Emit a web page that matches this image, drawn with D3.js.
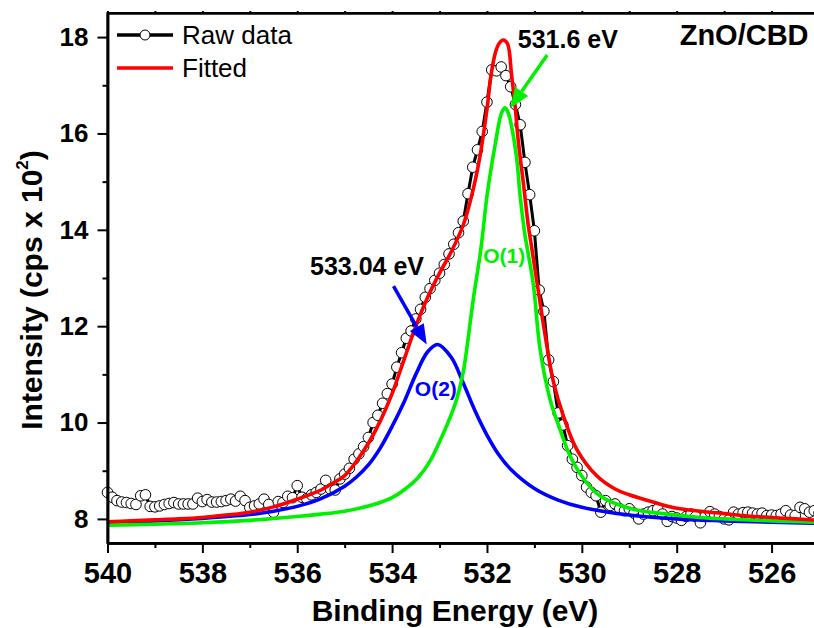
<!DOCTYPE html>
<html>
<head>
<meta charset="utf-8">
<script src="https://cdn.jsdelivr.net/npm/d3@7"></script>
<style>
body { margin: 0; background: #fff; }
svg { display: block; font-family: "Liberation Sans", Arial, sans-serif; }
</style>
</head>
<body>
<script>
// binding energy (eV), intensity (cps x 10^2)
var rawData = [
  [540.0,8.55],[539.9,8.45],[539.8,8.38],[539.7,8.35],[539.6,8.34],[539.5,8.32],[539.4,8.30],[539.3,8.48],[539.2,8.50],[539.1,8.26],
  [539.0,8.25],[538.9,8.27],[538.8,8.30],[538.7,8.32],[538.6,8.34],[538.5,8.31],[538.4,8.31],[538.3,8.31],[538.2,8.31],[538.1,8.43],
  [538.0,8.36],[537.9,8.40],[537.8,8.35],[537.7,8.35],[537.6,8.36],[537.5,8.38],[537.4,8.41],[537.3,8.37],[537.2,8.47],[537.1,8.38],
  [537.0,8.24],[536.9,8.27],[536.8,8.31],[536.7,8.41],[536.6,8.30],[536.5,8.14],[536.4,8.36],[536.3,8.34],[536.2,8.47],[536.1,8.44],
  [536.0,8.69],[535.9,8.45],[535.8,8.42],[535.7,8.50],[535.6,8.55],[535.5,8.62],[535.4,8.80],[535.3,8.62],[535.2,8.60],[535.1,8.83],
  [535.0,8.93],[534.9,9.05],[534.8,9.24],[534.7,9.35],[534.6,9.50],[534.5,9.69],[534.4,10.00],[534.3,10.15],[534.2,10.40],[534.1,10.60],
  [534.0,10.80],[533.9,11.15],[533.8,11.45],[533.7,11.75],[533.6,11.90],[533.5,12.15],[533.4,12.35],[533.3,12.60],[533.2,12.78],[533.1,12.95],
  [533.0,13.10],[532.9,13.28],[532.8,13.50],[532.7,13.70],[532.6,13.94],[532.5,14.18],[532.4,14.75],[532.3,15.30],[532.2,15.66],[532.1,16.04],
  [532.0,16.65],[531.9,17.32],[531.8,17.30],[531.7,17.38],[531.6,17.20],[531.5,16.97],[531.4,16.60],[531.3,16.18],[531.2,15.40],[531.1,14.73],
  [531.0,13.98],[530.9,12.75],[530.8,12.31],[530.7,11.30],[530.6,10.85],[530.5,10.20],[530.4,9.95],[530.3,9.52],[530.2,9.24],[530.1,9.07],
  [530.0,8.90],[529.9,8.66],[529.8,8.55],[529.7,8.48],[529.6,8.14],[529.5,8.38],[529.4,8.28],[529.3,8.31],[529.2,8.21],[529.1,8.17],
  [529.0,8.21],[528.9,8.12],[528.8,8.00],[528.7,8.10],[528.6,8.14],[528.5,8.17],[528.4,8.21],[528.3,8.10],[528.2,7.95],[528.1,8.05],
  [528.0,8.02],[527.9,7.97],[527.8,8.05],[527.7,8.10],[527.6,8.05],[527.5,7.92],[527.4,8.05],[527.3,8.15],[527.2,8.10],[527.1,8.05],
  [527.0,8.00],[526.9,7.98],[526.8,8.14],[526.7,8.10],[526.6,8.13],[526.5,8.14],[526.4,8.12],[526.3,8.10],[526.2,8.12],[526.1,8.07],
  [526.0,8.08],[525.9,8.07],[525.8,8.10],[525.7,8.17],[525.6,8.08],[525.5,8.07],[525.4,8.24],[525.3,8.21],[525.2,8.14],[525.1,8.17],
  [525.0,8.12]
];

var fittedData = [
  [540,7.94],[539.5,7.96],[539,7.98],[538.5,8.0],[538,8.03],[537.5,8.08],[537,8.14],[536.5,8.25],[536,8.41],[535.75,8.5],
  [535.5,8.6],[535.25,8.74],[535,8.9],[534.75,9.2],[534.5,9.57],[534.25,10.03],[534,10.6],[533.75,11.3],[533.5,12.0],[533.25,12.6],
  [533,13.1],[532.75,13.55],[532.5,14.1],[532.35,14.6],[532.2,15.25],[532.11,15.75],[532,16.5],[531.9,17.3],[531.8,17.75],[531.72,17.9],
  [531.66,17.94],[531.57,17.87],[531.48,17.2],[531.41,16.6],[531.34,15.85],[531.23,14.95],[531.13,14.1],[531.06,13.65],[530.92,12.75],[530.78,11.85],
  [530.6,10.85],[530.39,10.14],[530.11,9.45],[529.69,8.9],[529.3,8.62],[529,8.5],[528.5,8.35],[528,8.22],[527.5,8.16],[527,8.11],
  [526.5,8.06],[526,8.03],[525.5,8.0],[525,7.97]
];

var o1Data = [
  [540,7.87],[539,7.89],[538,7.92],[537,7.97],[536,8.05],[535.5,8.1],[535,8.16],[534.5,8.27],[534.25,8.34],[534,8.44],
  [533.75,8.6],[533.45,8.86],[533.2,9.2],[533,9.6],[532.8,10.05],[532.64,10.48],[532.5,11.05],[532.43,11.5],[532.29,12.55],[532.13,13.59],[532,14.7],
  [531.9,15.35],[531.83,15.75],[531.75,16.2],[531.69,16.43],[531.62,16.53],[531.55,16.42],[531.48,16.14],[531.37,15.45],[531.3,14.7],[531.2,13.9],
  [531.13,13.5],[531.02,12.85],[530.88,11.52],[530.67,10.48],[530.46,9.86],[530.25,9.31],[529.96,8.83],[529.62,8.48],[528.92,8.2],[528.21,8.1],
  [527.51,8.03],[527,8.0],[526,7.96],[525,7.93]
];

var o2Data = [
  [540,7.93],[539,7.96],[538,8.01],[537,8.09],[536.5,8.16],[536,8.26],[535.5,8.42],[535,8.68],[534.75,8.87],[534.5,9.12],
  [534.25,9.47],[534,9.92],[533.75,10.42],[533.5,11.0],[533.25,11.47],[533.04,11.62],[532.75,11.35],[532.5,10.82],[532.25,10.24],[532,9.74],
  [531.75,9.33],[531.5,9.03],[531,8.63],[530.5,8.39],[530,8.24],[529,8.08],[528,8.0],[527,7.96],[526,7.93],[525,7.91]
];

var xMajor = [540, 538, 536, 534, 532, 530, 528, 526];
var xMinor = [539, 537, 535, 533, 531, 529, 527, 525];
var yMajor = [8, 10, 12, 14, 16, 18];
var yMinor = [9, 11, 13, 15, 17];
var legendLabels = ["Raw data", "Fitted"];

// annotations: [E, intensity] positions
var peak1Label = {text: "531.6 eV", at: [531.35, 17.77]};
var peak2Label = {text: "533.04 eV", at: [535.73, 13.07]};
var o1Label = {text: "O(1)", at: [532.08, 13.32]};
var o2Label = {text: "O(2)", at: [533.52, 10.55]};
var sampleLabel = {text: "ZnO/CBD", at: [525.22, 17.83]};
var arrow1 = {from: [530.73, 17.63], to: [531.51, 16.53]};
var arrow2 = {from: [533.97, 12.83], to: [533.27, 11.62]};

var red = "#ff0000", green = "#00f000", blue = "#0000ff";

var svg = d3.select("body").append("svg")
    .attr("width", 814)
    .attr("height", 628);

var x = d3.scaleLinear().domain([540, 525]).range([107.5, 819]);
var y = d3.scaleLinear().domain([7.5, 18.5]).range([543, 13]);

var line = d3.line()
    .x(function(d) { return x(d[0]); })
    .y(function(d) { return y(d[1]); })
    .curve(d3.curveCatmullRom.alpha(0.5));

var rawLine = d3.line()
    .x(function(d) { return x(d[0]); })
    .y(function(d) { return y(d[1]); });

var plot = svg.append("g");

// raw data: black line with open circles
plot.append("path")
    .datum(rawData)
    .attr("fill", "none")
    .attr("stroke", "#000")
    .attr("stroke-width", 3)
    .attr("d", rawLine);

plot.selectAll("circle.raw")
    .data(rawData)
    .enter().append("circle")
    .attr("class", "raw")
    .attr("cx", function(d) { return x(d[0]); })
    .attr("cy", function(d) { return y(d[1]); })
    .attr("r", 5.3)
    .attr("fill", "#fff")
    .attr("stroke", "#000")
    .attr("stroke-width", 1);

[[o2Data, blue], [o1Data, green], [fittedData, red]].forEach(function(s) {
    plot.append("path")
        .datum(s[0])
        .attr("fill", "none")
        .attr("stroke", s[1])
        .attr("stroke-width", 3.6)
        .attr("stroke-linejoin", "round")
        .attr("d", line);
});

// frame
svg.append("rect")
    .attr("x", x(540)).attr("y", y(18.5))
    .attr("width", x(525) - x(540)).attr("height", y(7.5) - y(18.5))
    .attr("fill", "none").attr("stroke", "#000").attr("stroke-width", 2);

// axes
var xAxis = svg.append("g").attr("transform", "translate(0," + y(7.5) + ")")
    .call(d3.axisBottom(x).tickValues(xMajor).tickSize(10).tickSizeOuter(0).tickPadding(9).tickFormat(d3.format("d")));
svg.append("g").attr("transform", "translate(0," + y(7.5) + ")")
    .call(d3.axisBottom(x).tickValues(xMinor).tickSize(5).tickSizeOuter(0).tickFormat(""));
svg.append("g").attr("transform", "translate(0," + y(18.5) + ")")
    .call(d3.axisTop(x).tickValues(xMajor.concat(xMinor)).tickSize(2).tickSizeOuter(0).tickFormat(""));

var yAxis = svg.append("g").attr("transform", "translate(" + x(540) + ",0)")
    .call(d3.axisLeft(y).tickValues(yMajor).tickSize(10).tickSizeOuter(0).tickPadding(9).tickFormat(d3.format("d")));
svg.append("g").attr("transform", "translate(" + x(540) + ",0)")
    .call(d3.axisLeft(y).tickValues(yMinor).tickSize(5).tickSizeOuter(0).tickFormat(""));

svg.selectAll(".domain").attr("stroke-width", 2.5);
svg.selectAll(".tick line").attr("stroke-width", 2);

xAxis.selectAll("text")
    .attr("font-family", "Liberation Sans, Arial, sans-serif")
    .attr("font-size", 29).attr("font-weight", "bold").attr("fill", "#000");
yAxis.selectAll("text")
    .attr("font-family", "Liberation Sans, Arial, sans-serif")
    .attr("font-size", 26).attr("font-weight", "bold").attr("fill", "#000");

// axis titles
svg.append("text")
    .attr("x", 455)
    .attr("y", 621)
    .attr("text-anchor", "middle")
    .attr("font-size", 30).attr("font-weight", "bold")
    .text("Binding Energy (eV)");

var yt = svg.append("text")
    .attr("transform", "translate(42,290) rotate(-90)")
    .attr("text-anchor", "middle")
    .attr("font-size", 30).attr("font-weight", "bold");
yt.append("tspan").text("Intensity (cps x 10");
yt.append("tspan").attr("dy", -14).attr("font-size", 17).text("2");
yt.append("tspan").attr("dy", 14).text(")");

// legend
var lg = svg.append("g");
legendLabels.forEach(function(name, i) {
    var ly = 35 + i * 33;
    lg.append("line")
        .attr("x1", 117).attr("x2", 173).attr("y1", ly).attr("y2", ly)
        .attr("stroke", i === 0 ? "#000" : red).attr("stroke-width", 3.5);
    if (i === 0) {
        lg.append("circle").attr("cx", 145).attr("cy", ly).attr("r", 5)
            .attr("fill", "#fff").attr("stroke", "#000").attr("stroke-width", 1);
    }
    lg.append("text")
        .attr("x", 182).attr("y", ly + 8.5)
        .attr("font-size", 26)
        .text(name);
});

// annotations
function label(o, color, size, anchor) {
    svg.append("text")
        .attr("x", x(o.at[0])).attr("y", y(o.at[1]))
        .attr("text-anchor", anchor || "start")
        .attr("font-size", size).attr("font-weight", "bold")
        .attr("fill", color)
        .text(o.text);
}
label(peak1Label, "#000", 25);
label(peak2Label, "#000", 25);
label(o1Label, green, 21);
label(o2Label, blue, 21);
label(sampleLabel, "#000", 29, "end");

function arrow(a, color) {
    var x0 = x(a.from[0]), y0 = y(a.from[1]);
    var x1 = x(a.to[0]), y1 = y(a.to[1]);
    var ang = Math.atan2(y1 - y0, x1 - x0);
    var hl = 20, hw = 8;
    var bx = x1 - hl * Math.cos(ang), by = y1 - hl * Math.sin(ang);
    svg.append("line")
        .attr("x1", x0).attr("y1", y0).attr("x2", bx).attr("y2", by)
        .attr("stroke", color).attr("stroke-width", 3.5);
    var pts = [
        [x1, y1],
        [bx + hw * Math.sin(ang), by - hw * Math.cos(ang)],
        [bx - hw * Math.sin(ang), by + hw * Math.cos(ang)]
    ];
    svg.append("polygon")
        .attr("points", pts.map(function(p) { return p.join(","); }).join(" "))
        .attr("fill", color);
}
arrow(arrow1, green);
arrow(arrow2, blue);
</script>
</body>
</html>
